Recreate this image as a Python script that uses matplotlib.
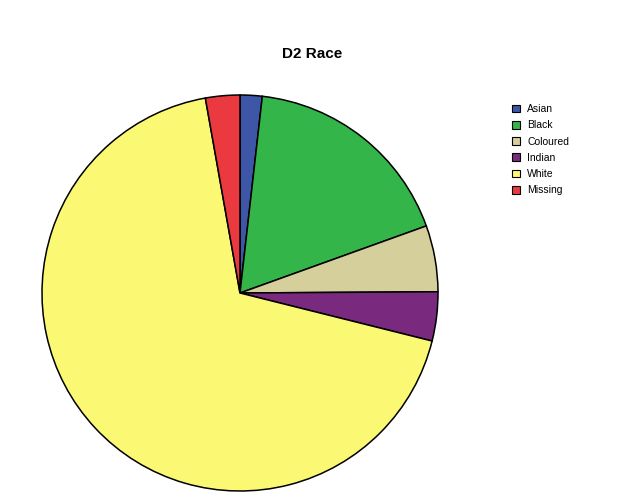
import matplotlib
matplotlib.use("Agg")
import matplotlib.pyplot as plt
from matplotlib.patches import Patch

plt.rcParams['font.family'] = ['Liberation Sans', 'DejaVu Sans']

# race categories, shares in percent
categories = ['Asian', 'Black', 'Coloured', 'Indian', 'White', 'Missing']
shares = [1.8, 17.7, 5.4, 4.0, 68.3, 2.8]
colors = ['#3d56a8', '#34b54a', '#d4cf9b', '#7a2a7e', '#fbf874', '#eb3a3f']

W, H = 624, 499
fig = plt.figure(figsize=(W / 100, H / 100), dpi=100)

# pie centre (240, 293) px from top, radius 198 px
cx, cy, r = 240, H - 293, 198
ax = fig.add_axes([(cx - r) / W, (cy - r) / H, 2 * r / W, 2 * r / H])
ax.pie(shares, colors=colors, startangle=90, counterclock=False, radius=1,
       wedgeprops=dict(edgecolor='black', linewidth=1.1))
ax.set_xlim(-1.0, 1.0)
ax.set_ylim(-1.0, 1.0)
ax.set_aspect('equal')
ax.axis('off')

fig.text(312 / W, 1 - 54 / H, 'D2 Race', ha='center', va='center',
         fontsize=11, fontweight='bold')

handles = [Patch(facecolor=c, edgecolor='black', linewidth=0.8) for c in colors]
fig.legend(handles, categories, loc='upper left',
           bbox_to_anchor=(508 / W, 1 - 100 / H), frameon=False,
           fontsize=7.5, handlelength=0.75, handleheight=0.75,
           handletextpad=0.7, labelspacing=0.6, borderaxespad=0)

fig.savefig('out.png', dpi=100)
